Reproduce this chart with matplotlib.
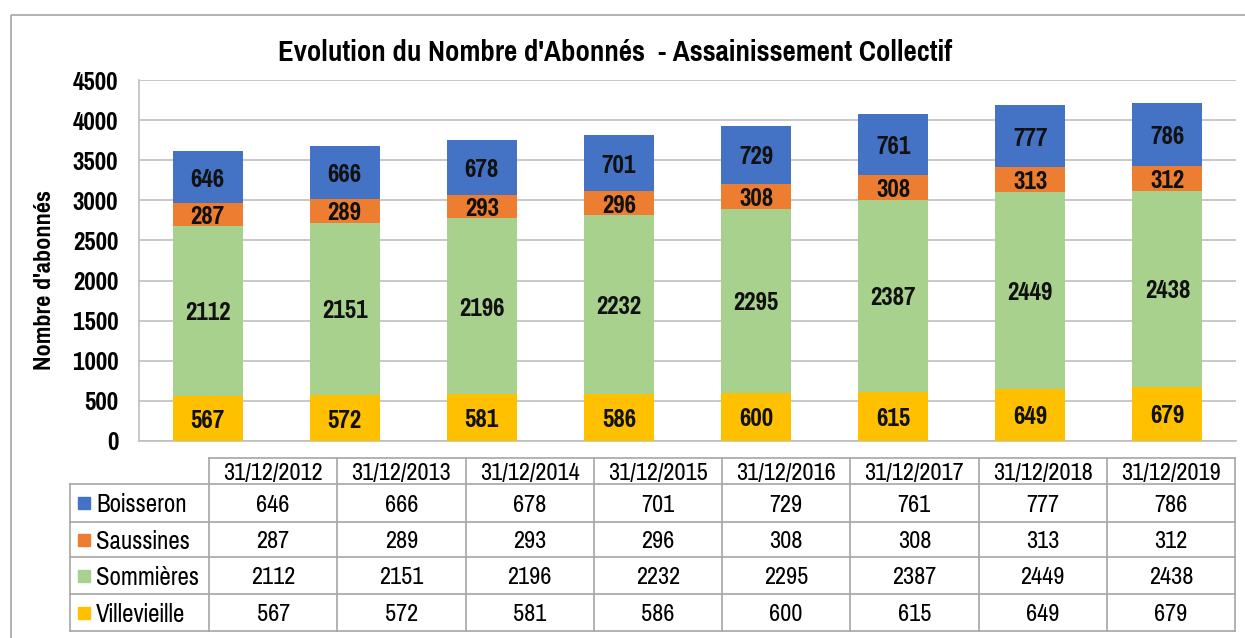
import matplotlib
matplotlib.use('Agg')
import matplotlib.pyplot as plt
from matplotlib.patches import Rectangle
import numpy as np

plt.rcParams['font.family'] = ['Pragati Narrow', 'PT Sans Narrow', 'Liberation Sans', 'DejaVu Sans']

# data
dates = ['31/12/2012', '31/12/2013', '31/12/2014', '31/12/2015',
         '31/12/2016', '31/12/2017', '31/12/2018', '31/12/2019']
communes = ['Boisseron', 'Saussines', 'Sommières', 'Villevieille']
boisseron = [646, 666, 678, 701, 729, 761, 777, 786]
saussines = [287, 289, 293, 296, 308, 308, 313, 312]
sommieres = [2112, 2151, 2196, 2232, 2295, 2387, 2449, 2438]
villevieille = [567, 572, 581, 586, 600, 615, 649, 679]
colors = ['#4472C4', '#ED7D31', '#A9D18E', '#FFC000']
yticks = [0, 500, 1000, 1500, 2000, 2500, 3000, 3500, 4000, 4500]

W, H = 1245, 638
fig = plt.figure(figsize=(W / 100, H / 100), dpi=100)

# background axes in pixel units (frame + table)
bg = fig.add_axes([0, 0, 1, 1])
bg.set_xlim(0, W)
bg.set_ylim(H, 0)
bg.axis('off')
bg.add_patch(Rectangle((11, 15), W, H, fill=False, ec='#A6A6A6', lw=1.2))

# bar chart
ax = fig.add_axes([139 / W, 1 - 441 / H, (1236 - 139) / W, (441 - 80) / H])
x = np.arange(len(dates))
series = [villevieille, sommieres, saussines, boisseron]
scol = [colors[3], colors[2], colors[1], colors[0]]
bottom = np.zeros(len(dates))
for vals, c in zip(series, scol):
    ax.bar(x, vals, width=0.51, bottom=bottom, color=c, zorder=3)
    for xi, b, v in zip(x, bottom, vals):
        ax.text(xi, b + v / 2, str(v), ha='center', va='center_baseline',
                fontsize=19.5, fontweight='bold', color='#111111', zorder=4)
    bottom += np.array(vals)

ax.set_xlim(-0.5, len(dates) - 0.5)
ax.set_ylim(0, 4500)
ax.set_yticks(yticks)
ax.set_yticklabels([str(t) for t in yticks], fontsize=19.5, fontweight='bold')
ax.tick_params(axis='y', length=0, pad=15)
ax.set_xticks([])
ax.grid(axis='y', color='#BFBFBF', lw=1.2, zorder=0)
for s in ['top', 'right']:
    ax.spines[s].set_visible(False)
ax.spines['left'].set_color('#BFBFBF')
ax.spines['bottom'].set_color('#BFBFBF')
ax.spines['left'].set_linewidth(1.2)
ax.spines['bottom'].set_linewidth(1.2)

fig.text(615 / W, 1 - 50 / H, "Evolution du Nombre d'Abonnés  - Assainissement Collectif",
         ha='center', va='center_baseline', fontsize=22.5, fontweight='bold')
fig.text(45 / W, 1 - 280 / H, "Nombre d'abonnés", rotation=90,
         ha='center', va='center', fontsize=19, fontweight='bold')

# data table
lab_l, col0 = 70, 209
col_w = (1235 - col0) / len(dates)
row_edges = [458, 484, 522, 557, 594, 631]
gc = '#A6A6A6'
# horizontal lines
bg.plot([col0, 1235], [row_edges[0], row_edges[0]], color=gc, lw=1.2)
for y in row_edges[1:]:
    bg.plot([lab_l, 1235], [y, y], color=gc, lw=1.2)
# vertical lines
bg.plot([lab_l, lab_l], [row_edges[1], row_edges[-1]], color=gc, lw=1.2)
for i in range(len(dates) + 1):
    xx = col0 + i * col_w
    bg.plot([xx, xx], [row_edges[0], row_edges[-1]], color=gc, lw=1.2)

for i, d in enumerate(dates):
    bg.text(col0 + (i + 0.5) * col_w, (row_edges[0] + row_edges[1]) / 2, d,
            ha='center', va='center_baseline', fontsize=19)

table_rows = [boisseron, saussines, sommieres, villevieille]
for r, (name, vals, c) in enumerate(zip(communes, table_rows, colors)):
    yc = (row_edges[r + 1] + row_edges[r + 2]) / 2
    bg.add_patch(Rectangle((78, yc - 6), 12, 12, color=c))
    bg.text(96, yc, name, ha='left', va='center_baseline', fontsize=19.5)
    for i, v in enumerate(vals):
        bg.text(col0 + (i + 0.5) * col_w, yc, str(v),
                ha='center', va='center_baseline', fontsize=19)

fig.savefig('out.png', dpi=100)
